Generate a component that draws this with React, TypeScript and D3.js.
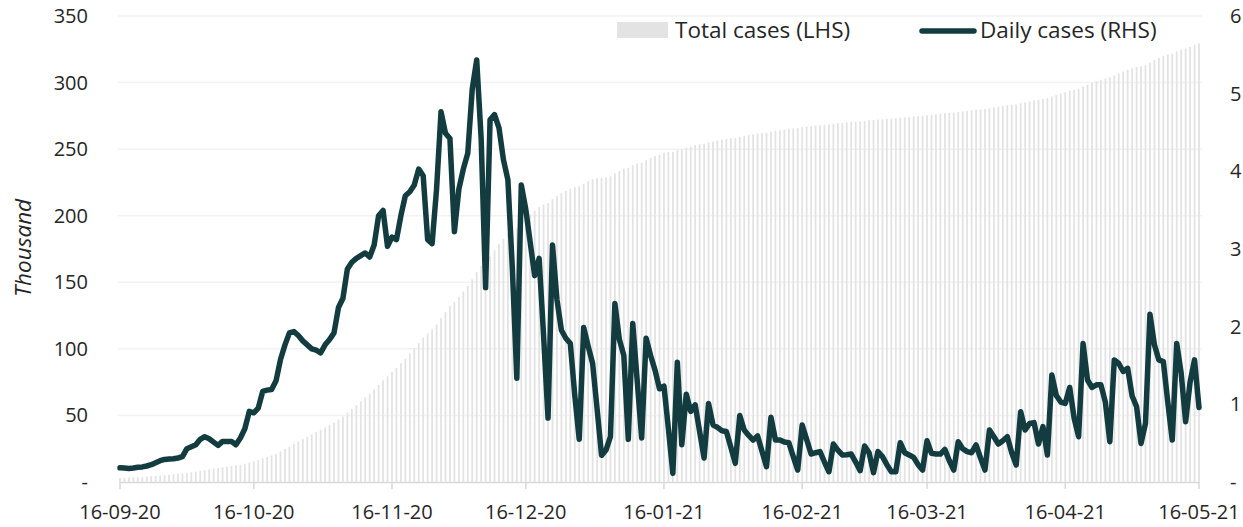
import React from 'react';
import * as d3 from 'd3';

const startDate = '2020-09-16';
const tickLabels = ['16-09-20', '16-10-20', '16-11-20', '16-12-20', '16-01-21', '16-02-21', '16-03-21', '16-04-21', '16-05-21'];
const leftTicks = [0, 50, 100, 150, 200, 250, 300, 350];
const rightTicks = [0, 1000, 2000, 3000, 4000, 5000, 6000];
const seriesNames = ['Total cases (LHS)', 'Daily cases (RHS)'];

// Total cases, thousand (LHS)
const totalCases = [
  3.0, 3.2, 3.4, 3.5, 3.7, 3.9, 4.1, 4.4, 4.6, 4.9, 5.2, 5.5, 5.8, 6.1, 6.4, 6.8, 7.3, 7.8, 8.3, 8.9,
  9.5, 10.0, 10.4, 11.0, 11.5, 12.0, 12.5, 13.0, 13.7, 14.6, 15.5, 16.5, 17.7, 18.8, 20.0, 21.3, 22.9, 24.7, 26.6, 28.5,
  30.4, 32.2, 34.0, 35.7, 37.4, 39.1, 40.9, 42.7, 44.6, 46.9, 49.2, 52.0, 54.8, 57.7, 60.6, 63.5, 66.4, 69.5, 72.9, 76.4,
  79.4, 82.6, 85.7, 89.1, 92.8, 96.6, 100.4, 104.4, 108.4, 111.5, 114.6, 118.3, 123.1, 127.6, 132.0, 135.2, 139.0, 143.0, 147.3, 152.3,
  157.7, 162.2, 164.7, 169.3, 174.1, 178.6, 182.8, 186.7, 189.4, 190.7, 194.6, 198.1, 201.2, 203.8, 206.7, 208.6, 209.4, 212.5, 214.8, 216.8,
  218.6, 220.4, 221.5, 222.0, 224.0, 225.8, 227.3, 228.3, 228.6, 229.0, 229.6, 231.9, 233.7, 235.3, 235.9, 237.9, 239.2, 239.8, 241.7, 243.3,
  244.7, 245.9, 247.2, 247.8, 248.0, 249.5, 250.0, 251.1, 252.0, 253.0, 253.7, 254.0, 255.0, 255.7, 256.4, 257.1, 257.7, 258.2, 258.4, 259.3,
  259.9, 260.5, 261.1, 261.7, 262.1, 262.3, 263.1, 263.6, 264.2, 264.7, 265.2, 265.5, 265.7, 266.4, 267.0, 267.3, 267.7, 268.1, 268.3, 268.5,
  269.0, 269.4, 269.7, 270.1, 270.4, 270.7, 270.8, 271.3, 271.7, 271.8, 272.2, 272.5, 272.7, 272.9, 273.0, 273.5, 273.9, 274.2, 274.6, 274.8,
  274.9, 275.5, 275.8, 276.2, 276.6, 277.0, 277.2, 277.4, 277.9, 278.3, 278.7, 279.1, 279.6, 279.9, 280.1, 280.7, 281.3, 281.8, 282.3, 282.9,
  283.3, 283.5, 284.4, 285.1, 285.8, 286.6, 287.1, 287.8, 288.2, 289.5, 290.6, 291.7, 292.7, 293.9, 294.7, 295.3, 297.1, 298.4, 299.6, 300.9,
  302.1, 303.1, 303.7, 305.2, 306.8, 308.2, 309.6, 310.8, 311.7, 312.2, 313.0, 315.1, 316.9, 318.5, 320.0, 321.1, 321.6, 323.4, 324.8, 325.6,
  326.8, 328.4, 329.4,
];

// Daily cases (RHS)
const dailyCases = [
  183, 180, 175, 180, 189, 194, 206, 223, 249, 274, 291, 297, 300, 309, 326, 429, 454, 480, 549, 583,
  557, 514, 471, 523, 523, 523, 480, 566, 686, 909, 891, 951, 1166, 1183, 1191, 1303, 1577, 1766, 1920, 1937,
  1886, 1817, 1766, 1714, 1697, 1663, 1766, 1834, 1920, 2246, 2366, 2743, 2829, 2880, 2914, 2949, 2897, 3051, 3429, 3497,
  3034, 3154, 3120, 3429, 3686, 3737, 3823, 4029, 3943, 3120, 3069, 3771, 4766, 4491, 4423, 3223, 3771, 4029, 4234, 5057,
  5434, 4423, 2503, 4663, 4731, 4560, 4149, 3891, 2743, 1337, 3823, 3514, 3086, 2657, 2880, 1886, 823, 3051, 2349, 1954,
  1851, 1783, 1114, 549, 1989, 1749, 1526, 943, 343, 411, 583, 2297, 1834, 1629, 549, 2040, 1303, 566, 1851, 1629,
  1440, 1200, 1234, 686, 111, 1543, 480, 1131, 909, 994, 651, 309, 1011, 737, 703, 660, 651, 446, 240, 857,
  669, 600, 540, 593, 394, 197, 833, 542, 542, 514, 506, 326, 154, 734, 549, 360, 377, 391, 257, 132,
  489, 411, 348, 351, 360, 257, 146, 463, 377, 120, 391, 326, 223, 132, 132, 506, 377, 348, 317, 223,
  154, 531, 369, 360, 360, 420, 274, 154, 519, 429, 391, 377, 477, 309, 154, 669, 583, 489, 531, 583,
  377, 219, 905, 669, 754, 765, 489, 713, 348, 1378, 1114, 1029, 1011, 1217, 819, 583, 1783, 1313, 1217, 1251,
  1251, 1029, 519, 1572, 1526, 1423, 1464, 1107, 970, 497, 754, 2160, 1766, 1572, 1550, 1029, 540, 1783, 1401, 777,
  1286, 1572, 960,
];

const FONT = "'Segoe UI', 'Open Sans', sans-serif";
const TEXT = '#262626';
const LINE = '#133c40';
const BAR = '#e3e3e3';
const GRID = '#f2f2f2';
const AXIS = '#d9d9d9';

export default function App() {
  const W = 1243;
  const H = 527;
  const left = 120;
  const right = 1199;
  const top = 16;
  const bottom = 482;

  const start = d3.timeParse('%Y-%m-%d')(startDate) as Date;
  const dates = totalCases.map((_, i) => d3.timeDay.offset(start, i));
  const x = d3.scaleTime().domain([start, dates[dates.length - 1]]).range([left, right]);
  const yL = d3.scaleLinear().domain([0, 350]).range([bottom, top]);
  const yR = d3.scaleLinear().domain([0, 6000]).range([bottom, top]);
  const parseTick = d3.timeParse('%d-%m-%y');
  const tickDates = tickLabels.map((s) => parseTick(s) as Date);

  const line = d3
    .line<number>()
    .x((_, i) => x(dates[i]))
    .y((d) => yR(d))
    .curve(d3.curveLinear);

  const barW = 1.8;

  return (
    <svg
      width={W}
      height={H}
      style={{ position: 'absolute', left: 0, top: 0, background: '#fff', overflow: 'hidden' }}
      fontFamily={FONT}
    >
      <rect x={0} y={0} width={W} height={H} fill="#fff" />
      {/* gridlines */}
      {leftTicks.slice(1).map((t) => (
        <line key={t} x1={left - 2} x2={right + 3} y1={yL(t)} y2={yL(t)} stroke={GRID} strokeWidth={1.5} />
      ))}
      {/* bars */}
      {totalCases.map((v, i) => (
        <rect key={i} x={x(dates[i]) - barW / 2} y={yL(v)} width={barW} height={bottom - yL(v)} fill={BAR} />
      ))}
      {/* x axis */}
      <line x1={left} x2={right + 1} y1={bottom + 0.5} y2={bottom + 0.5} stroke={AXIS} strokeWidth={1.5} />
      {tickDates.map((d, i) => (
        <g key={i}>
          <line x1={x(d)} x2={x(d)} y1={bottom} y2={bottom + 7} stroke={AXIS} strokeWidth={1.5} />
          <text x={x(d)} y={bottom + 37} textAnchor="middle" fontSize={20} fill={TEXT}>
            {tickLabels[i]}
          </text>
        </g>
      ))}
      {/* daily line */}
      <path d={line(dailyCases) || ''} fill="none" stroke={LINE} strokeWidth={5.5} strokeLinejoin="round" strokeLinecap="round" />
      {/* left axis labels */}
      {leftTicks.map((t) => (
        <text key={t} x={88} y={yL(t)} dy="0.35em" textAnchor="end" fontSize={20} fill={TEXT}>
          {t === 0 ? '-' : t}
        </text>
      ))}
      {/* right axis labels (thousands) */}
      {rightTicks.map((t) => (
        <text key={t} x={1230} y={yR(t)} dy="0.35em" textAnchor="start" fontSize={20} fill={TEXT}>
          {t === 0 ? '-' : t / 1000}
        </text>
      ))}
      {/* y axis title */}
      <text
        transform={`translate(31, 248) rotate(-90)`}
        textAnchor="middle"
        fontSize={22.5}
        fontStyle="italic"
        fill={TEXT}
      >
        Thousand
      </text>
      {/* legend */}
      <rect x={617} y={22} width={51} height={16} fill={BAR} />
      <text x={675} y={30} dy="0.35em" fontSize={22.5} fill={TEXT}>
        {seriesNames[0]}
      </text>
      <line x1={922} x2={974} y1={31} y2={31} stroke={LINE} strokeWidth={5.5} strokeLinecap="round" />
      <text x={980} y={30} dy="0.35em" fontSize={22.5} fill={TEXT}>
        {seriesNames[1]}
      </text>
    </svg>
  );
}
